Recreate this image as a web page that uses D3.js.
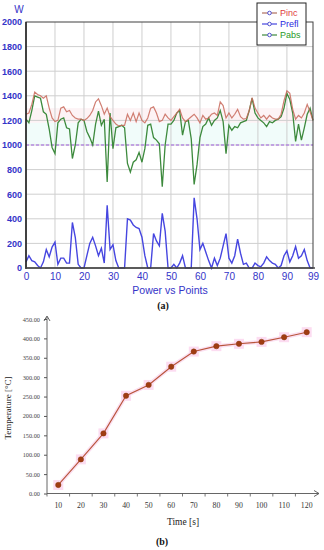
<!DOCTYPE html>
<html><head><meta charset="utf-8">
<script src="https://cdn.jsdelivr.net/npm/d3@7"></script>
<style>body{margin:0;background:#fff}svg{display:block}</style>
</head><body>
<svg id="c" width="324" height="550"></svg>
<script>
// ---- Chart (a) data ----
const points = d3.range(0, 100);
const pinc = [1250,1260,1330,1430,1410,1400,1380,1400,1300,1220,1190,1200,1300,1310,1270,1280,1240,1220,1210,1210,
1200,1215,1240,1280,1350,1375,1320,1250,1300,1230,1200,1170,1155,1160,1160,1250,1200,1260,1190,1260,
1200,1180,1220,1300,1310,1260,1190,1200,1250,1220,1200,1230,1260,1290,1220,1190,1210,1230,1250,1220,
1180,1240,1210,1220,1250,1260,1240,1350,1320,1220,1260,1220,1250,1290,1230,1210,1215,1280,1385,1300,
1260,1220,1240,1210,1240,1220,1210,1210,1250,1360,1440,1420,1290,1210,1240,1220,1260,1330,1270,1200];
const pabs = [1210,1180,1280,1400,1390,1380,1270,1250,1130,980,930,1180,1210,1220,1140,1130,890,1000,1180,1210,
1200,1110,1060,1000,1170,1275,1160,1210,700,1260,970,1140,1150,1160,1140,850,780,860,880,940,
860,970,1160,1170,1060,1040,1010,660,1000,1170,1170,1200,1260,1280,1080,1190,1200,1050,680,840,
1060,1150,1170,1220,1160,1200,1220,1280,1190,930,1160,1120,1150,1140,1180,1190,1200,1280,1380,1260,
1220,1200,1180,1150,1190,1180,1200,1210,1230,1300,1420,1370,1260,1030,1170,1040,1140,1250,1300,1200];
const prefl = [50,100,60,50,20,0,50,150,90,170,210,30,80,80,40,40,370,250,30,0,
0,100,200,250,180,100,160,40,510,150,190,60,0,0,0,400,390,350,330,320,
250,100,0,0,280,220,180,445,300,0,0,30,0,40,100,0,0,0,570,400,
150,200,130,60,0,80,20,80,180,280,80,40,100,235,120,30,40,0,0,40,
20,10,40,90,60,40,30,0,20,100,140,50,100,175,80,100,150,60,0,0];
const yTicksA = [0,200,400,600,800,1000,1200,1400,1600,1800,2000];
const xTicksA = [0,10,20,30,40,50,60,70,80,90,99];
const seriesNames = ["Pinc","Prefl","Pabs"];

// ---- Chart (b) data ----
const times = [10,20,30,40,50,60,70,80,90,100,110,120];
const temps = [22,88,155,252,280,327,366,380,386,391,403,416];
const yTicksB = [0,50,100,150,200,250,300,350,400,450];

const svg = d3.select("#c");
svg.append("rect").attr("width",324).attr("height",550).attr("fill","#fff");

// ================= Chart (a) =================
const xa = d3.scaleLinear().domain([0,99]).range([26,313]);
const ya = d3.scaleLinear().domain([0,2000]).range([268,22]);
const ga = svg.append("g");
const blue = "#3434c8";
const sans = "Liberation Sans, Arial, sans-serif";

// faint bands (image halo)
ga.append("rect").attr("x",xa(0)).attr("width",xa(99)-xa(0))
  .attr("y",ya(1300)).attr("height",ya(1180)-ya(1300)).attr("fill","#fdf3f5");
ga.append("rect").attr("x",xa(0)).attr("width",xa(99)-xa(0))
  .attr("y",ya(1180)).attr("height",ya(1000)-ya(1180)).attr("fill","#f1fcfa");

// grid
ga.selectAll(".vg").data(xTicksA.slice(1,-1)).enter().append("line")
  .attr("x1",d=>xa(d)).attr("x2",d=>xa(d)).attr("y1",ya(2000)).attr("y2",ya(0))
  .attr("stroke","#cfcfcf").attr("stroke-width",1);
ga.selectAll(".hg").data(yTicksA.slice(1,-1)).enter().append("line")
  .attr("x1",xa(0)).attr("x2",xa(99)).attr("y1",d=>ya(d)).attr("y2",d=>ya(d))
  .attr("stroke","#cfcfcf").attr("stroke-width",1);

// dashed 1000 line
ga.append("line").attr("x1",xa(0)).attr("x2",xa(99)).attr("y1",ya(1000)).attr("y2",ya(1000))
  .attr("stroke","#a060e0").attr("stroke-width",1).attr("stroke-dasharray","3,2");

const lineA = d3.line().x((d,i)=>xa(points[i])).y(d=>ya(d));
ga.append("path").datum(prefl).attr("d",lineA).attr("fill","none").attr("stroke","#4646e0").attr("stroke-width",1.4);
ga.append("path").datum(pabs).attr("d",lineA).attr("fill","none").attr("stroke","#3d8a3d").attr("stroke-width",1.3);
ga.append("path").datum(pinc).attr("d",lineA).attr("fill","none").attr("stroke","#c8685a").attr("stroke-width",1.2).attr("opacity",0.85);

// frame
ga.append("rect").attr("x",xa(0)).attr("y",ya(2000)).attr("width",xa(99)-xa(0)).attr("height",ya(0)-ya(2000))
  .attr("fill","none").attr("stroke","#404040").attr("stroke-width",1);
ga.append("line").attr("x1",xa(0)).attr("x2",xa(0)).attr("y1",ya(2000)).attr("y2",ya(0)+1).attr("stroke","#222").attr("stroke-width",1.5);
ga.append("line").attr("x1",xa(0)).attr("x2",xa(99)+2).attr("y1",ya(0)).attr("y2",ya(0)).attr("stroke","#444").attr("stroke-width",1.5);

// axes
const yAxA = d3.axisLeft(ya).tickValues(yTicksA).tickFormat(d3.format("d")).tickSize(0).tickPadding(4);
const gy = ga.append("g").attr("transform",`translate(${xa(0)},0)`).call(yAxA);
gy.select(".domain").remove();
gy.selectAll("text").attr("fill",blue).attr("font-family",sans).attr("font-size",9).attr("font-weight","bold");
const xAxA = d3.axisBottom(xa).tickValues(xTicksA).tickFormat(d3.format("d")).tickSize(0).tickPadding(5);
const gx = ga.append("g").attr("transform",`translate(0,${ya(0)})`).call(xAxA);
gx.select(".domain").remove();
gx.selectAll("text").attr("fill",blue).attr("font-family",sans).attr("font-size",10);

ga.append("text").attr("x",19).attr("y",13).attr("text-anchor","middle").attr("fill",blue)
  .attr("font-family",sans).attr("font-size",10).text("W");
ga.append("text").attr("x",170).attr("y",294).attr("text-anchor","middle").attr("fill",blue)
  .attr("font-family",sans).attr("font-size",10.5).text("Power vs Points");
ga.append("text").attr("x",163).attr("y",309).attr("text-anchor","middle").attr("fill","#111")
  .attr("font-family","Liberation Serif, Times New Roman, serif").attr("font-size",10).attr("font-weight","bold").text("(a)");

// legend
const lg = ga.append("g");
lg.append("rect").attr("x",257).attr("y",3).attr("width",49).attr("height",42).attr("fill","#fff").attr("stroke","#222").attr("stroke-width",1);
const legLine = {Pinc:"#b07060",Prefl:"#4646e0",Pabs:"#3d8a3d"};
const legText = {Pinc:"#e03c3c",Prefl:"#2a2ae0",Pabs:"#2a9a2a"};
const legY = d3.scalePoint().domain(seriesNames).range([13,35]);
seriesNames.forEach(n=>{
  const yy = legY(n);
  lg.append("line").attr("x1",262).attr("x2",277).attr("y1",yy).attr("y2",yy).attr("stroke",legLine[n]).attr("stroke-width",1.2);
  lg.append("circle").attr("cx",269.5).attr("cy",yy).attr("r",1.8).attr("fill","#fff").attr("stroke","#5050d0").attr("stroke-width",1);
  lg.append("text").attr("x",280).attr("y",yy+3.3).attr("fill",legText[n]).attr("font-family",sans).attr("font-size",9).text(n);
});

// ================= Chart (b) =================
const xb = d3.scaleBand().domain(times).range([47,318]);
const yb = d3.scaleLinear().domain([0,450]).range([493.5,319]);
const gb = svg.append("g");
const serif = "Liberation Serif, Times New Roman, serif";

const yAxB = d3.axisLeft(yb).tickValues(yTicksB).tickFormat(d3.format(".2f")).tickSize(3).tickPadding(4);
const gyb = gb.append("g").attr("transform",`translate(${xb.range()[0]},0)`).call(yAxB);
gyb.select(".domain").remove();
gyb.selectAll("line").attr("stroke","#555");
gyb.selectAll("text").attr("fill","#444").attr("font-family",serif).attr("font-size",6.3);

const xAxB = d3.axisBottom(xb).tickSize(0).tickPadding(9);
const gxb = gb.append("g").attr("transform",`translate(0,${yb(0)})`).call(xAxB);
gxb.select(".domain").remove();
gxb.selectAll("text").attr("fill","#333").attr("font-family",serif).attr("font-size",7.8);
// category boundary ticks
gb.selectAll(".bt").data(times).enter().append("line")
  .attr("x1",d=>xb(d)).attr("x2",d=>xb(d)).attr("y1",yb(0)).attr("y2",yb(0)+3)
  .attr("stroke","#555").attr("stroke-width",0.8);

// axis lines with arrows
gb.append("line").attr("x1",xb.range()[0]).attr("x2",xb.range()[0]).attr("y1",yb(0)).attr("y2",317)
  .attr("stroke","#555").attr("stroke-width",0.9);
gb.append("path").attr("d",`M${xb.range()[0]-3},${321} L${xb.range()[0]},${316} L${xb.range()[0]+3},${321}`)
  .attr("fill","none").attr("stroke","#555").attr("stroke-width",0.9);
gb.append("line").attr("x1",xb.range()[0]).attr("x2",319).attr("y1",yb(0)).attr("y2",yb(0))
  .attr("stroke","#555").attr("stroke-width",0.9);
gb.append("path").attr("d",`M314,${yb(0)-3} L319,${yb(0)} L314,${yb(0)+3}`)
  .attr("fill","none").attr("stroke","#555").attr("stroke-width",0.9);

// line + markers
const lineB = d3.line().x((d,i)=>xb(times[i])+xb.bandwidth()/2).y(d=>yb(d));
gb.append("path").datum(temps).attr("d",lineB).attr("fill","none").attr("stroke","#fbe0f1").attr("stroke-width",4);
gb.selectAll(".halo").data(temps).enter().append("rect")
  .attr("x",(d,i)=>xb(times[i])+xb.bandwidth()/2-5).attr("y",d=>yb(d)-5).attr("width",10).attr("height",10)
  .attr("fill","#fcdcf1");
gb.append("path").datum(temps).attr("d",lineB).attr("fill","none").attr("stroke","#b8543a").attr("stroke-width",1.1);
gb.selectAll(".pt").data(temps).enter().append("circle")
  .attr("cx",(d,i)=>xb(times[i])+xb.bandwidth()/2).attr("cy",d=>yb(d)).attr("r",2.7)
  .attr("fill","#a03c12").attr("stroke","#8a3a10").attr("stroke-width",0.5);

gb.append("text").attr("x",183).attr("y",525).attr("text-anchor","middle").attr("fill","#222")
  .attr("font-family",serif).attr("font-size",9.5).text("Time [s]");
gb.append("text").attr("transform","translate(11,408) rotate(-90)").attr("text-anchor","middle").attr("fill","#222")
  .attr("font-family",serif).attr("font-size",9).text("Temperature [°C]");
gb.append("text").attr("x",162).attr("y",545).attr("text-anchor","middle").attr("fill","#111")
  .attr("font-family",serif).attr("font-size",10).attr("font-weight","bold").text("(b)");
</script>
</body></html>
